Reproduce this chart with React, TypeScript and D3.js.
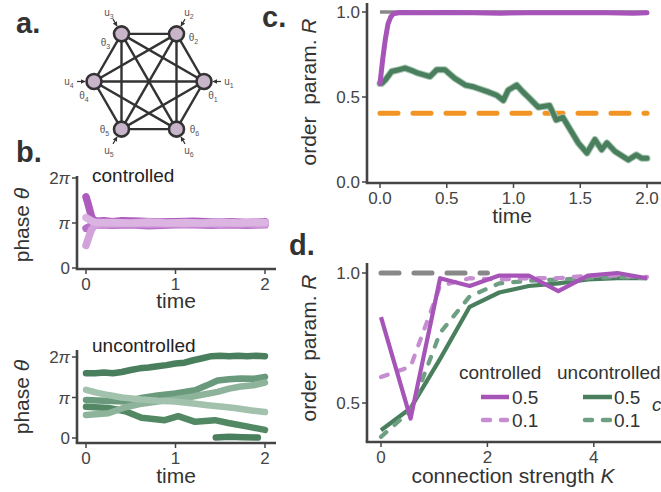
import React from 'react';
import * as d3 from 'd3';

// ---- data ----
// panel b: phase trajectories, [time, phase / pi]
const ctrlPhase: { color: string; pts: [number, number][] }[] = [
  { color: '#ad5cbe', pts: [[0, 1.58], [0.02, 1.45], [0.04, 1.3], [0.06, 1.15], [0.08, 1.07], [0.12, 1.04], [0.2, 1.05], [0.3, 1.03], [0.4, 1.05], [0.6, 1.04], [0.8, 1.02], [1.0, 1.03], [1.2, 1.04], [1.4, 1.02], [1.6, 1.03], [1.8, 1.01], [2.0, 1.03]] },
  { color: '#b86fc7', pts: [[0, 0.88], [0.04, 0.92], [0.08, 0.95], [0.12, 0.96], [0.3, 0.95], [0.5, 0.96], [0.7, 0.94], [1.0, 0.96], [1.2, 0.96], [1.4, 0.95], [1.6, 0.96], [1.8, 0.95], [2.0, 0.96]] },
  { color: '#d2a2db', pts: [[0, 0.5], [0.03, 0.68], [0.06, 0.85], [0.1, 0.95], [0.14, 0.98], [0.3, 0.98], [0.5, 0.99], [0.7, 0.98], [0.9, 0.99], [1.1, 0.98], [1.3, 0.99], [1.5, 0.98], [1.7, 0.99], [1.9, 0.98], [2.0, 0.98]] },
  { color: '#dbb4e2', pts: [[0, 1.12], [0.04, 1.07], [0.08, 1.03], [0.12, 1.01], [0.3, 1.01], [0.5, 1.0], [0.7, 1.02], [0.9, 1.0], [1.1, 1.01], [1.3, 1.0], [1.5, 1.02], [1.7, 1.0], [1.9, 1.02], [2.0, 1.01]] },
];

const unctrlPhase: { color: string; pts: [number, number][] }[] = [
  { color: '#4a7f5e', pts: [[0, 1.6], [0.1, 1.6], [0.2, 1.62], [0.3, 1.6], [0.4, 1.63], [0.5, 1.68], [0.6, 1.72], [0.7, 1.74], [0.8, 1.77], [0.9, 1.8], [1.0, 1.84], [1.1, 1.86], [1.2, 1.92], [1.3, 1.97], [1.4, 2.02], [1.5, 2.03], [1.6, 2.02], [1.7, 2.03], [1.8, 2.02], [1.9, 2.03], [2.0, 2.02]] },
  { color: '#4a7f5e', pts: [[1.45, 0.01], [1.6, 0.03], [1.75, 0.02], [1.92, 0.01]] },
  { color: '#528864', pts: [[0, 0.77], [0.25, 0.74], [0.44, 0.66], [0.62, 0.5], [0.88, 0.44], [1.03, 0.54], [1.22, 0.4], [1.44, 0.44], [1.59, 0.37], [1.81, 0.28], [2.0, 0.2]] },
  { color: '#6a9a7c', pts: [[0, 0.94], [0.2, 0.92], [0.44, 0.9], [0.6, 0.98], [0.8, 1.05], [1.0, 1.1], [1.22, 1.18], [1.35, 1.3], [1.47, 1.42], [1.6, 1.45], [1.73, 1.47], [1.87, 1.46], [2.0, 1.51]] },
  { color: '#8db39b', pts: [[0, 0.57], [0.25, 0.61], [0.44, 0.76], [0.6, 0.84], [0.8, 0.9], [1.0, 0.96], [1.18, 1.02], [1.47, 1.14], [1.6, 1.22], [1.73, 1.27], [1.87, 1.3], [2.0, 1.37]] },
  { color: '#a2c2ae', pts: [[0, 1.19], [0.12, 1.12], [0.25, 1.06], [0.4, 1.0], [0.62, 0.95], [0.8, 0.92], [0.99, 0.9], [1.2, 0.85], [1.36, 0.81], [1.5, 0.78], [1.66, 0.74], [1.85, 0.68], [2.0, 0.64]] },
];

// panel c: order parameter over time
const ctrlR: [number, number][] = [[0, 0.58], [0.02, 0.72], [0.04, 0.84], [0.06, 0.93], [0.08, 0.97], [0.1, 0.99], [0.15, 0.997], [0.3, 0.995], [0.5, 0.997], [0.7, 0.995], [0.9, 0.993], [1.1, 0.996], [1.3, 0.995], [1.5, 0.996], [1.7, 0.995], [1.9, 0.993], [2.0, 0.995]];
const unctrlR: [number, number][] = [[0, 0.58], [0.013, 0.58], [0.04, 0.6], [0.087, 0.65], [0.14, 0.66], [0.187, 0.67], [0.24, 0.655], [0.285, 0.64], [0.33, 0.63], [0.375, 0.62], [0.425, 0.66], [0.487, 0.66], [0.56, 0.61], [0.64, 0.57], [0.7, 0.56], [0.736, 0.55], [0.81, 0.53], [0.874, 0.51], [0.924, 0.48], [0.96, 0.54], [1.024, 0.57], [1.07, 0.53], [1.11, 0.5], [1.186, 0.44], [1.27, 0.45], [1.32, 0.365], [1.37, 0.38], [1.42, 0.315], [1.485, 0.23], [1.55, 0.17], [1.61, 0.25], [1.66, 0.19], [1.7, 0.23], [1.76, 0.18], [1.86, 0.13], [1.92, 0.16], [1.96, 0.14], [2.0, 0.14]];
const fullSync = 1.0;
const threshold = 0.405;

// panel d: order parameter vs connection strength
const kValues = [0, 0.556, 1.111, 1.667, 2.222, 2.778, 3.333, 3.889, 4.444, 5];
const rCtrl05 = [0.83, 0.44, 0.98, 0.95, 0.99, 0.99, 0.93, 0.99, 1.0, 0.98];
const rCtrl01 = [0.6, 0.64, 0.95, 0.98, 0.975, 0.98, 0.98, 0.99, 0.99, 0.985];
const rUnc05 = [0.395, 0.48, 0.67, 0.87, 0.925, 0.95, 0.96, 0.975, 0.98, 0.98];
const rUnc01 = [0.37, 0.47, 0.77, 0.91, 0.96, 0.97, 0.975, 0.98, 0.985, 0.98];
const refK = [0, 2];

// panel a: oscillator network
const nodeIds = [1, 2, 3, 4, 5, 6];

const FONT = '"Liberation Sans", Arial, Helvetica, sans-serif';
const AX = '#444';
const PURPLE = '#a754b9';
const PURPLE_L = '#c68ed0';
const GREEN = '#4a7f5e';
const GREEN_L = '#6f9f83';

type Sc = d3.ScaleLinear<number, number>;

function Axes({ x, y, left, right, top, bottom, xTicks, yTicks, xFmt, yFmt }: {
  x: Sc; y: Sc; left: number; right: number; top: number; bottom: number;
  xTicks: number[]; yTicks: number[];
  xFmt: (v: number) => React.ReactNode; yFmt: (v: number) => React.ReactNode;
}) {
  return (
    <g fill={AX} fontFamily={FONT} fontSize={17}>
      <line x1={left} x2={left} y1={top} y2={bottom} stroke={AX} strokeWidth={2.6} />
      <line x1={left - 1.3} x2={right} y1={bottom} y2={bottom} stroke={AX} strokeWidth={2.6} />
      {xTicks.map(t => (
        <g key={'x' + t}>
          <line x1={x(t)} x2={x(t)} y1={bottom} y2={bottom + 5} stroke={AX} strokeWidth={1.5} />
          <text x={x(t)} y={bottom + 21} textAnchor="middle">{xFmt(t)}</text>
        </g>
      ))}
      {yTicks.map(t => (
        <g key={'y' + t}>
          <line x1={left - 5} x2={left} y1={y(t)} y2={y(t)} stroke={AX} strokeWidth={1.5} />
          <text x={left - 7} y={y(t)} dy="0.36em" textAnchor="end">{yFmt(t)}</text>
        </g>
      ))}
    </g>
  );
}

const piFmt = (v: number) =>
  v === 0 ? '0' : v === 1 ? <tspan fontStyle="italic">π</tspan> : <>2<tspan fontStyle="italic">π</tspan></>;

function Network() {
  const cx = 149, cy = 81.5, r = 55;
  const pos = nodeIds.map(i => {
    const a = ((i - 1) * 60 * Math.PI) / 180;
    return { i, a, x: cx + r * Math.cos(a), y: cy - r * Math.sin(a) };
  });
  const edges: [number, number][] = [];
  for (let a = 0; a < pos.length; a++) for (let b = a + 1; b < pos.length; b++) edges.push([a, b]);
  const thetaOff: Record<number, [number, number]> = { 1: [9, 14], 2: [17, 4], 3: [-16, 9], 4: [-10, 14], 5: [-17, 0], 6: [18, 0] };
  return (
    <g fontFamily={FONT} fill="#555" fontSize={10}>
      <defs>
        <marker id="arr" viewBox="0 0 10 10" refX="9" refY="5" markerWidth="4" markerHeight="4" orient="auto">
          <path d="M0,0L10,5L0,10z" fill="#333" />
        </marker>
      </defs>
      {edges.map(([a, b]) => (
        <line key={a + '-' + b} x1={pos[a].x} y1={pos[a].y} x2={pos[b].x} y2={pos[b].y} stroke="#333" strokeWidth={2.4} />
      ))}
      {pos.map(p => {
        const ux = Math.cos(p.a), uy = -Math.sin(p.a);
        const [ox, oy] = thetaOff[p.i];
        return (
          <g key={p.i}>
            <line x1={cx + ux * 72} y1={cy + uy * 72} x2={cx + ux * 64} y2={cy + uy * 64} stroke="#333" strokeWidth={1.2} markerEnd="url(#arr)" />
            <text x={cx + ux * 80} y={cy + uy * 80} dy="0.35em" textAnchor="middle">u<tspan fontSize={7} dy={3}>{p.i}</tspan></text>
            <text x={p.x + ox} y={p.y + oy} dy="0.35em" textAnchor="middle">θ<tspan fontSize={7} dy={3}>{p.i}</tspan></text>
          </g>
        );
      })}
      {pos.map(p => (
        <circle key={'n' + p.i} cx={p.x} cy={p.y} r={7.5} fill="#c9b5c9" stroke="#333" strokeWidth={2.6} />
      ))}
    </g>
  );
}

export default function App() {
  // panel b scales
  const bx = d3.scaleLinear().domain([0, 2]).range([86, 265]);
  const byTop = d3.scaleLinear().domain([0, 2]).range([268, 178]);
  const byBot = d3.scaleLinear().domain([0, 2]).range([438, 357]);
  // panel c scales
  const cx = d3.scaleLinear().domain([0, 2]).range([380, 647]);
  const cy = d3.scaleLinear().domain([0, 1]).range([182, 12]);
  // panel d scales
  const dx = d3.scaleLinear().domain([0, 5]).range([381, 647]);
  const dy = d3.scaleLinear().domain([0.5, 1]).range([403, 273]);

  const lineB = (y: Sc) => d3.line<[number, number]>().x(d => bx(d[0])).y(d => y(d[1]));
  const lineC = d3.line<[number, number]>().x(d => cx(d[0])).y(d => cy(d[1]));
  const lineD = (vals: number[]) => d3.line<number>().x((_, i) => dx(kValues[i])).y(d => dy(d))(vals) || '';

  const title = { fontFamily: FONT, fontSize: 21, fill: '#333' } as const;
  const panel = { fontFamily: FONT, fontSize: 29, fontWeight: 700, fill: '#333' } as const;

  const dLines = [
    { vals: rUnc05, color: GREEN, dash: undefined },
    { vals: rUnc01, color: GREEN_L, dash: '7 11' },
    { vals: rCtrl01, color: PURPLE_L, dash: '7 11' },
    { vals: rCtrl05, color: PURPLE, dash: undefined },
  ];

  return (
    <div style={{ position: 'absolute', left: 0, top: 0 }}>
      <svg width={661} height={492} style={{ display: 'block', background: '#fff' }}>
        {/* panel labels */}
        <text x={16} y={33} {...panel}>a.</text>
        <text x={16} y={162} {...panel}>b.</text>
        <text x={262} y={27} {...panel}>c.</text>
        <text x={289} y={255} {...panel}>d.</text>

        <Network />

        {/* panel b, controlled */}
        <g strokeLinecap="round" strokeLinejoin="round" fill="none">
          {ctrlPhase.map((s, i) => (
            <path key={i} d={lineB(byTop)(s.pts) || ''} stroke={s.color} strokeWidth={7.5} />
          ))}
        </g>
        <Axes x={bx} y={byTop} left={77} right={276} top={176} bottom={269} xTicks={[0, 1, 2]} yTicks={[0, 1, 2]} xFmt={v => String(v)} yFmt={piFmt} />
        <text x={92} y={182} fontFamily={FONT} fontSize={19} fill="#222">controlled</text>
        <text x={176} y={308} textAnchor="middle" {...title}>time</text>
        <text transform="translate(29,225) rotate(-90)" textAnchor="middle" {...title}>phase <tspan fontStyle="italic">θ</tspan></text>

        {/* panel b, uncontrolled */}
        <g strokeLinecap="round" strokeLinejoin="round" fill="none">
          {unctrlPhase.map((s, i) => (
            <path key={i} d={lineB(byBot)(s.pts) || ''} stroke={s.color} strokeWidth={6.5} />
          ))}
        </g>
        <Axes x={bx} y={byBot} left={77} right={276} top={350} bottom={443} xTicks={[0, 1, 2]} yTicks={[0, 1, 2]} xFmt={v => String(v)} yFmt={piFmt} />
        <text x={92} y={352} fontFamily={FONT} fontSize={19} fill="#222">uncontrolled</text>
        <text x={176} y={483} textAnchor="middle" {...title}>time</text>
        <text transform="translate(29,397) rotate(-90)" textAnchor="middle" {...title}>phase <tspan fontStyle="italic">θ</tspan></text>

        {/* panel c */}
        <g fill="none" strokeLinejoin="round">
          <line x1={cx(0)} x2={cx(2)} y1={cy(fullSync)} y2={cy(fullSync)} stroke="#888" strokeWidth={3.5} />
          <line x1={cx(0)} x2={cx(2)} y1={cy(threshold)} y2={cy(threshold)} stroke="#f29423" strokeWidth={5} strokeDasharray="18 15" strokeLinecap="round" />
          <path d={lineC(unctrlR) || ''} stroke="#a9c6b4" strokeWidth={7} strokeLinecap="round" />
          <path d={lineC(unctrlR) || ''} stroke={GREEN} strokeWidth={5} strokeLinecap="round" />
          <path d={lineC(ctrlR) || ''} stroke={PURPLE} strokeWidth={5} strokeLinecap="round" />
        </g>
        <Axes x={cx} y={cy} left={367} right={661} top={3} bottom={183} xTicks={[0, 0.5, 1, 1.5, 2]} yTicks={[0, 0.5, 1]} xFmt={v => v.toFixed(1)} yFmt={v => v.toFixed(1)} />
        <text x={512} y={223} textAnchor="middle" {...title}>time</text>
        <text transform="translate(316,92) rotate(-90)" textAnchor="middle" style={{ whiteSpace: 'pre' }} {...title}>order  param. <tspan fontStyle="italic">R</tspan></text>

        {/* panel d */}
        <g fill="none" strokeLinejoin="round">
          <line x1={dx(refK[0])} x2={dx(refK[1])} y1={dy(1)} y2={dy(1)} stroke="#888" strokeWidth={5} strokeDasharray="18 15" strokeLinecap="round" />
          {dLines.map((l, i) => (
            <path key={i} d={lineD(l.vals)} stroke={l.color} strokeWidth={4.2} strokeDasharray={l.dash} strokeLinecap={l.dash ? 'round' : 'butt'} />
          ))}
        </g>
        <Axes x={dx} y={dy} left={367} right={661} top={263} bottom={442} xTicks={[0, 2, 4]} yTicks={[0.5, 1]} xFmt={v => String(v)} yFmt={v => v.toFixed(1)} />
        <text x={513} y={483} textAnchor="middle" {...title}>connection strength <tspan fontStyle="italic">K</tspan></text>
        <text transform="translate(316,348) rotate(-90)" textAnchor="middle" style={{ whiteSpace: 'pre' }} {...title}>order  param. <tspan fontStyle="italic">R</tspan></text>

        {/* legend */}
        <g fontFamily={FONT} fontSize={19} fill="#333">
          <text x={459} y={379}>controlled</text>
          <text x={557} y={379}>uncontrolled</text>
          <line x1={481} x2={509} y1={397} y2={397} stroke={PURPLE} strokeWidth={4.5} />
          <line x1={483} x2={507} y1={420} y2={420} stroke={PURPLE_L} strokeWidth={4.5} strokeDasharray="7 11" strokeLinecap="round" />
          <line x1={583} x2={612} y1={397} y2={397} stroke={GREEN} strokeWidth={4.5} />
          <line x1={585} x2={610} y1={420} y2={420} stroke={GREEN_L} strokeWidth={4.5} strokeDasharray="7 11" strokeLinecap="round" />
          <text x={512} y={397} dy="0.36em">0.5</text>
          <text x={512} y={420} dy="0.36em">0.1</text>
          <text x={614} y={397} dy="0.36em">0.5</text>
          <text x={614} y={420} dy="0.36em">0.1</text>
          <text x={652} y={411} fontStyle="italic">c</text>
        </g>
      </svg>
    </div>
  );
}
